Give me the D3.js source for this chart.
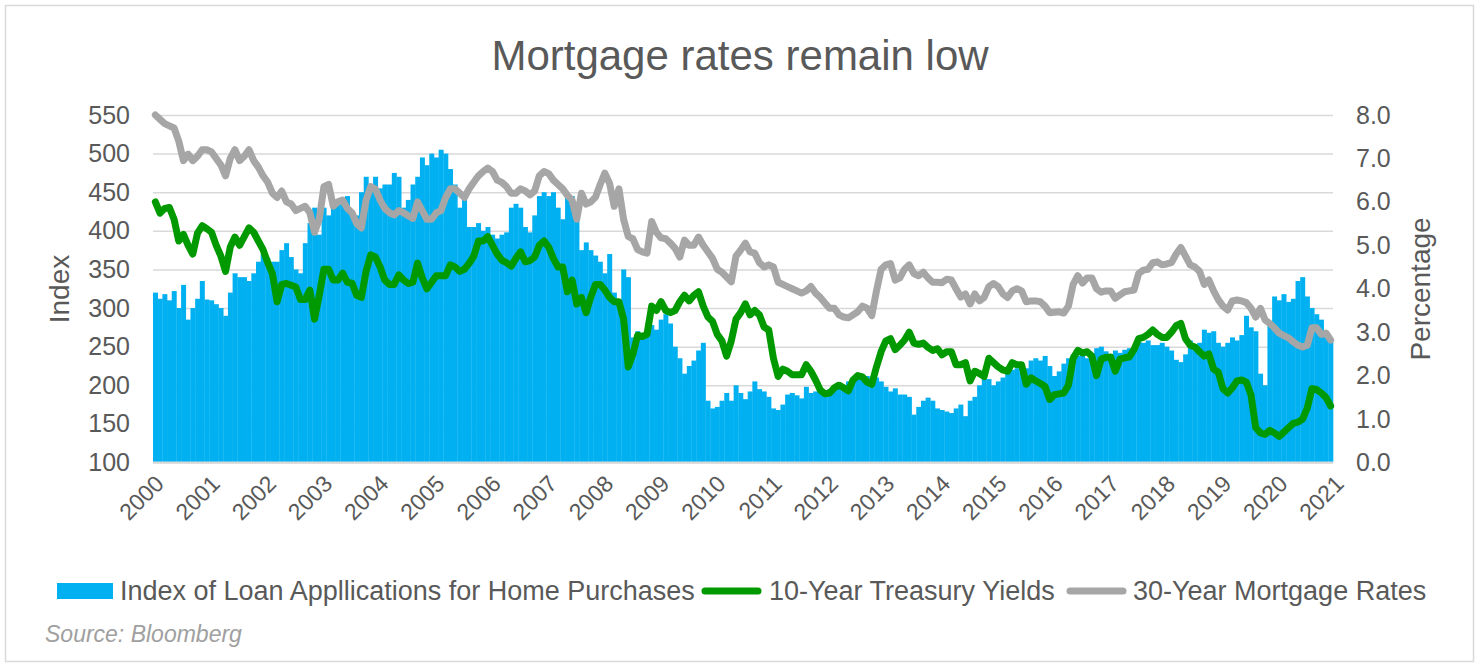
<!DOCTYPE html>
<html>
<head>
<meta charset="utf-8">
<script src="https://cdn.jsdelivr.net/npm/d3@7"></script>
<style>
  body { margin: 0; background: #fff; }
  text { font-family: "Liberation Sans", Arial, sans-serif; fill: #595959; }
</style>
</head>
<body>
<svg id="chart" width="1479" height="672"></svg>
<script>
// monthly values, Jan 2000 .. Dec 2020 along the axis
const applications = [
  320, 312, 318, 310, 322, 300, 330, 285, 300, 312, 335, 311,
  310, 305, 300, 290, 320, 345, 340, 340, 335, 345, 360, 370,
  365, 360, 360, 375, 384, 366, 350, 345, 384, 410, 430, 395,
  430, 420, 440, 435, 435, 445, 420, 420, 450, 470, 450, 470,
  455, 460, 460, 475, 470, 430, 440, 460, 470, 495, 485, 500,
  495, 505, 500, 480, 460, 430, 440, 405, 405, 410, 400, 405,
  395, 390, 395, 398, 430, 435, 430, 405, 398, 420, 445, 450,
  445, 450, 430, 415, 445, 445, 420, 375, 385, 375, 368, 360,
  345, 370, 320, 310, 350, 340, 262, 270, 265, 268, 278, 272,
  285, 292, 280, 250, 235, 215, 225, 232, 245, 255, 180, 170,
  172, 180, 190, 180, 200, 190, 182, 192, 205, 195, 192, 185,
  170, 168, 175, 188, 190, 187, 183, 198, 190, 192, 192, 192,
  195, 198, 201, 196, 205, 210, 210, 207, 212, 210, 210, 205,
  198, 192, 196, 188, 188, 185, 162, 172, 180, 184, 180, 170,
  168, 166, 164, 170, 175, 160, 180, 185, 200, 210, 208, 200,
  205, 210, 215, 220, 222, 218, 222, 232, 235, 232, 238, 225,
  212, 218, 228, 235, 240, 238, 240, 235, 240, 248, 250, 244,
  240, 245, 242, 246, 248, 244, 258, 255, 258, 252, 252, 255,
  250, 245, 233, 230, 240, 258, 245, 255, 272, 268, 270, 255,
  250, 255, 262, 258, 265, 290, 275, 270, 215, 200, 280, 315,
  310, 318, 308, 312, 335, 340, 315, 300, 292, 285, 268, 258
];

const treasury10y = [
  6.0, 5.74, 5.85, 5.87, 5.6, 5.1, 5.25, 5.0, 4.8, 5.28, 5.45, 5.38,
  5.3, 5.0, 4.75, 4.4, 4.96, 5.19, 5.0, 5.2, 5.4, 5.3, 5.1, 4.9,
  4.6, 4.35, 3.7, 4.1, 4.12, 4.08, 4.04, 3.75, 3.75, 3.97, 3.3, 3.85,
  4.45, 4.45, 4.2, 4.2, 4.36, 4.15, 4.13, 3.85, 3.8, 4.4, 4.78, 4.73,
  4.5, 4.2, 4.1, 4.1, 4.32, 4.2, 4.12, 4.15, 4.59, 4.25, 4.0, 4.15,
  4.3, 4.3, 4.3, 4.55, 4.5, 4.4, 4.45, 4.58, 4.75, 5.1, 5.1, 5.2,
  5.0, 4.8, 4.66, 4.6, 4.52, 4.7, 4.85, 4.62, 4.65, 4.73, 5.0, 5.1,
  4.96, 4.7, 4.5, 4.5, 3.93, 4.2, 3.65, 3.8, 3.45, 3.81, 4.1, 4.1,
  3.97, 3.8, 3.7, 3.7, 3.3, 2.2, 2.5, 2.93, 2.9, 2.95, 3.6, 3.5,
  3.7, 3.5, 3.45, 3.5, 3.7, 3.85, 3.72, 3.85, 3.93, 3.6, 3.35, 3.25,
  2.95, 2.8, 2.45, 2.8, 3.3, 3.45, 3.65, 3.4, 3.5, 3.4, 3.12, 3.05,
  2.4, 1.98, 2.15, 2.1, 2.02, 2.02, 2.02, 2.25, 2.1, 1.9, 1.67, 1.58,
  1.6, 1.72, 1.78, 1.72, 1.65, 1.9, 2.0, 1.97, 1.85, 1.8, 2.2, 2.55,
  2.8, 2.85, 2.6, 2.7, 2.82, 3.0, 2.75, 2.72, 2.75, 2.65, 2.58, 2.62,
  2.48, 2.55, 2.55, 2.25, 2.25, 2.3, 1.88, 2.1, 2.05, 1.98, 2.4, 2.3,
  2.2, 2.13, 2.1, 2.3, 2.25, 2.25, 1.8, 1.95, 1.88, 1.82, 1.75, 1.45,
  1.56, 1.58, 1.6, 1.78, 2.4, 2.58, 2.52, 2.55, 2.45, 2.0, 2.38, 2.42,
  2.43, 2.1, 2.38, 2.41, 2.43, 2.6, 2.85, 2.88, 2.95, 3.05, 2.95, 2.88,
  2.88, 3.0, 3.15, 3.2, 2.85, 2.7, 2.66, 2.55, 2.45, 2.5, 2.15, 2.08,
  1.7, 1.6, 1.72, 1.88, 1.9, 1.85, 1.55, 0.8, 0.68, 0.65, 0.74, 0.68,
  0.6, 0.7, 0.8, 0.9, 0.93, 1.0, 1.25, 1.7, 1.68, 1.6, 1.5, 1.3
];

const mortgage30y = [
  8.0, 7.9, 7.8, 7.75, 7.7, 7.4, 6.95, 7.1, 6.95, 7.05, 7.2, 7.2,
  7.15, 7.0, 6.85, 6.6, 7.0, 7.2, 6.95, 7.05, 7.2, 6.95, 6.8, 6.6,
  6.45, 6.2, 6.1, 6.25, 6.0, 5.95, 5.8, 5.85, 5.9, 5.75, 5.3, 5.6,
  6.35, 6.4, 5.9, 6.0, 6.04, 5.85, 5.75, 5.5, 5.4, 6.04, 6.35, 6.3,
  6.04, 5.85, 5.75, 5.7, 5.8, 5.75, 5.68, 5.62, 6.0, 5.8, 5.6, 5.6,
  5.75, 5.8, 6.1, 6.3, 6.3, 6.2, 6.1, 6.3, 6.45, 6.6, 6.7, 6.78,
  6.7, 6.5, 6.45, 6.35, 6.2, 6.2, 6.3, 6.25, 6.16, 6.25, 6.6, 6.7,
  6.65, 6.5, 6.4, 6.3, 6.15, 6.04, 5.6, 6.2, 5.95, 6.0, 6.11, 6.4,
  6.66, 6.43, 5.9, 6.3, 5.6, 5.2, 5.15, 4.9, 4.85, 4.82, 5.55, 5.3,
  5.17, 5.15, 5.05, 4.93, 4.73, 5.12, 5.0, 5.0, 5.19, 5.0, 4.85, 4.7,
  4.45, 4.38, 4.27, 4.16, 4.75, 4.89, 5.05, 4.85, 4.82, 4.6, 4.5, 4.55,
  4.5, 4.15, 4.1, 4.05, 4.0, 3.95, 3.9, 3.95, 4.05, 3.9, 3.8, 3.67,
  3.55, 3.55, 3.4, 3.35, 3.33, 3.4, 3.47, 3.6, 3.55, 3.38, 3.95, 4.45,
  4.55, 4.58, 4.2, 4.25, 4.45, 4.55, 4.35, 4.3, 4.38, 4.25, 4.15, 4.15,
  4.14, 4.22, 4.2, 4.0, 3.81, 3.88, 3.65, 3.88, 3.72, 3.8, 4.05, 4.12,
  4.05, 3.88, 3.8, 3.95, 4.0, 3.95, 3.7, 3.72, 3.72, 3.7, 3.6, 3.45,
  3.46, 3.47, 3.44, 3.6, 4.1, 4.3, 4.13, 4.25, 4.25, 4.0, 3.92, 3.95,
  3.95, 3.78, 3.86, 3.93, 3.95, 3.97, 4.35, 4.43, 4.45, 4.6, 4.62, 4.55,
  4.57, 4.6, 4.8, 4.95, 4.75, 4.55, 4.5, 4.4, 4.1, 4.2, 3.95, 3.75,
  3.6, 3.51, 3.72, 3.74, 3.72, 3.68, 3.55, 3.35, 3.55, 3.28, 3.2, 3.1,
  2.98, 2.92, 2.87, 2.78, 2.7, 2.66, 2.7, 3.1, 3.1, 2.95, 2.98, 2.82
];

const years = d3.range(2000, 2022);
const indexTicks = d3.range(100, 551, 50);
const pctTicks = d3.range(0, 8.01, 1);

const svg = d3.select("#chart");
const plotLeft = 153, plotRight = 1333, plotTop = 115, plotBottom = 462.5;

const x = d3.scaleLinear().domain([2000, 2021]).range([plotLeft, plotRight]);
const yL = d3.scaleLinear().domain([100, 550]).range([plotBottom, plotTop]);
const yR = d3.scaleLinear().domain([0, 8]).range([plotBottom, plotTop]);
const t = i => 2000 + i / 12;

// outer border
svg.append("rect")
    .attr("x", 5.5).attr("y", 5.5)
    .attr("width", 1468).attr("height", 656)
    .attr("fill", "#fff").attr("stroke", "#d9d9d9").attr("stroke-width", 1.5);

// title
svg.append("text")
    .attr("x", 740).attr("y", 55)
    .attr("text-anchor", "middle").attr("dy", "0.35em")
    .style("font-size", "42px")
    .text("Mortgage rates remain low");

// gridlines
svg.append("g")
    .attr("transform", `translate(${plotLeft},0)`)
    .call(d3.axisLeft(yL).tickValues(indexTicks).tickSize(-(plotRight - plotLeft)).tickFormat(""))
    .call(g => g.select(".domain").remove())
    .call(g => g.selectAll("line").attr("stroke", "#d9d9d9").attr("stroke-width", 1.5));

// bars
const bw = x(t(1)) - x(t(0));
svg.append("g")
    .selectAll("rect")
    .data(applications)
    .enter().append("rect")
    .attr("x", (d, i) => x(t(i)))
    .attr("width", bw + 0.3)
    .attr("y", d => yL(d))
    .attr("height", d => plotBottom - yL(d))
    .attr("fill", "#00b0f0");

// baseline
svg.append("line")
    .attr("x1", plotLeft).attr("x2", plotRight)
    .attr("y1", plotBottom).attr("y2", plotBottom)
    .attr("stroke", "#d9d9d9").attr("stroke-width", 2);

const line = d3.line()
    .x((d, i) => x(t(i) + 1 / 24))
    .y(d => yR(d));

svg.append("path")
    .datum(mortgage30y)
    .attr("d", line)
    .attr("fill", "none").attr("stroke", "#a6a6a6")
    .attr("stroke-width", 7).attr("stroke-linejoin", "round").attr("stroke-linecap", "round");

svg.append("path")
    .datum(treasury10y)
    .attr("d", line)
    .attr("fill", "none").attr("stroke", "#009900")
    .attr("stroke-width", 7).attr("stroke-linejoin", "round").attr("stroke-linecap", "round");

// left axis
svg.append("g")
    .attr("transform", "translate(130,0)")
    .call(d3.axisLeft(yL).tickValues(indexTicks).tickSize(0).tickPadding(0))
    .call(g => g.select(".domain").remove())
    .call(g => g.selectAll("text").style("font-size", "25px").attr("fill", "#595959"));

// right axis
svg.append("g")
    .attr("transform", "translate(1356,0)")
    .call(d3.axisRight(yR).tickValues(pctTicks).tickSize(0).tickPadding(0).tickFormat(d3.format(".1f")))
    .call(g => g.select(".domain").remove())
    .call(g => g.selectAll("text").style("font-size", "25px").attr("fill", "#595959"));

// x axis
svg.append("g")
    .attr("transform", `translate(0,${plotBottom})`)
    .call(d3.axisBottom(x).tickValues(years).tickSize(0).tickFormat(d3.format("d")))
    .call(g => g.select(".domain").remove())
    .call(g => g.selectAll("text")
        .attr("x", 0).attr("y", 0).attr("dy", "0.35em")
        .attr("text-anchor", "end")
        .attr("transform", "translate(6,17) rotate(-45)")
        .style("font-size", "23px").attr("fill", "#595959"));

// axis titles
svg.append("text")
    .attr("transform", "translate(59,289) rotate(-90)")
    .attr("text-anchor", "middle").attr("dy", "0.35em")
    .style("font-size", "28px")
    .text("Index");

svg.append("text")
    .attr("transform", "translate(1420,289) rotate(-90)")
    .attr("text-anchor", "middle").attr("dy", "0.35em")
    .style("font-size", "28px")
    .text("Percentage");

// legend
const ly = 591;
const legend = svg.append("g");
legend.append("rect")
    .attr("x", 57).attr("y", ly - 8).attr("width", 56).attr("height", 16)
    .attr("fill", "#00b0f0");
legend.append("text")
    .attr("x", 120).attr("y", ly).attr("dy", "0.35em")
    .style("font-size", "27px")
    .text("Index of Loan Appllications for Home Purchases");
legend.append("line")
    .attr("x1", 705).attr("x2", 758).attr("y1", ly).attr("y2", ly)
    .attr("stroke", "#009900").attr("stroke-width", 7).attr("stroke-linecap", "round");
legend.append("text")
    .attr("x", 769).attr("y", ly).attr("dy", "0.35em")
    .style("font-size", "27px")
    .text("10-Year Treasury Yields");
legend.append("line")
    .attr("x1", 1070).attr("x2", 1123).attr("y1", ly).attr("y2", ly)
    .attr("stroke", "#a6a6a6").attr("stroke-width", 7).attr("stroke-linecap", "round");
legend.append("text")
    .attr("x", 1133).attr("y", ly).attr("dy", "0.35em")
    .style("font-size", "27px")
    .text("30-Year Mortgage Rates");

// source
svg.append("text")
    .attr("x", 45).attr("y", 634).attr("dy", "0.35em")
    .style("font-size", "23px").style("font-style", "italic")
    .style("fill", "#a0a0a0")
    .text("Source: Bloomberg");
</script>
</body>
</html>
